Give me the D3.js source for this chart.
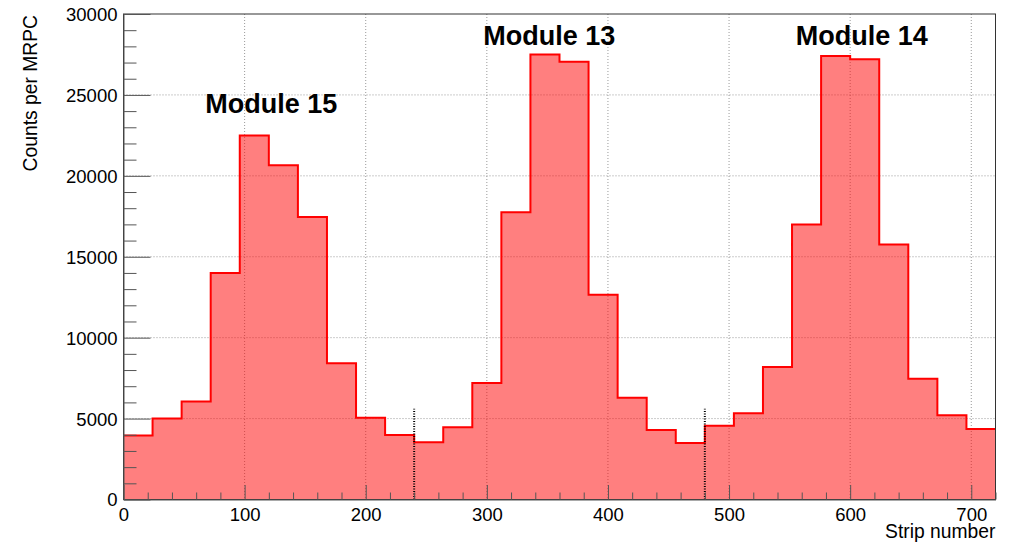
<!DOCTYPE html>
<html>
<head>
<meta charset="utf-8">
<script src="https://cdn.jsdelivr.net/npm/d3@7"></script>
<style>
	body { margin: 0; background: #fff; }
	text { font-family: "Liberation Sans", Arial, Helvetica, sans-serif; }
</style>
</head>
<body>
<script>
// bin width 24 strips, 30 bins from 0 to 720
var binWidth = 24;
var counts = [3950, 5000, 6050, 14000, 22500, 20650, 17450, 8420, 5050, 3980,
	3530, 4460, 7200, 17750, 27500, 27050, 12650, 6280, 4300, 3490,
	4560, 5330, 8180, 17000, 27400, 27200, 15750, 7460, 5200, 4360];

var xTicks = [0, 100, 200, 300, 400, 500, 600, 700];
var yTicks = [0, 5000, 10000, 15000, 20000, 25000, 30000];

var moduleNames = ["Module 15", "Module 13", "Module 14"];
var moduleX = [67.5, 297, 555];
var moduleY = [23900, 28100, 28100];

var separators = [240, 480];
var separatorTop = 5600;

var width = 1025,
	height = 551,
	padLeft = 123.5,
	padRight = 995.5,
	padTop = 14,
	padBottom = 499.5;

var x = d3.scaleLinear().domain([0, 720]).range([padLeft, padRight]);
var y = d3.scaleLinear().domain([0, 30000]).range([padBottom, padTop]);

var svg = d3.select("body").append("svg")
			.attr("width", width)
			.attr("height", height);

// grid
svg.append("g").selectAll("line")
	.data(xTicks.filter(function(d){ return d > 0; }))
	.enter().append("line")
	.attr("x1", function(d){ return x(d); })
	.attr("x2", function(d){ return x(d); })
	.attr("y1", padTop)
	.attr("y2", padBottom)
	.style("stroke", "#999")
	.style("stroke-dasharray", "1,2");

svg.append("g").selectAll("line")
	.data(yTicks.filter(function(d){ return d > 0 && d < 30000; }))
	.enter().append("line")
	.attr("x1", padLeft)
	.attr("x2", padRight)
	.attr("y1", function(d){ return y(d); })
	.attr("y2", function(d){ return y(d); })
	.style("stroke", "#999")
	.style("stroke-dasharray", "1,2");

// histogram
var pts = [];
counts.forEach(function(c, i){
	pts.push([i * binWidth, c]);
	pts.push([(i + 1) * binWidth, c]);
});

var area = d3.area()
	.x(function(d){ return x(d[0]); })
	.y0(y(0))
	.y1(function(d){ return y(d[1]); });

var line = d3.line()
	.x(function(d){ return x(d[0]); })
	.y(function(d){ return y(d[1]); });

svg.append("path")
	.datum(pts)
	.attr("d", area)
	.style("fill", "#ff0000")
	.style("fill-opacity", 0.5);

svg.append("path")
	.datum(pts)
	.attr("d", line)
	.style("fill", "none")
	.style("stroke", "#ff0000")
	.style("stroke-width", 2);

// module separators
svg.append("g").selectAll("line")
	.data(separators)
	.enter().append("line")
	.attr("x1", function(d){ return x(d); })
	.attr("x2", function(d){ return x(d); })
	.attr("y1", y(0))
	.attr("y2", y(separatorTop))
	.style("stroke", "#000")
	.style("stroke-width", 2)
	.style("stroke-dasharray", "1,1.5");

// frame
svg.append("rect")
	.attr("x", padLeft)
	.attr("y", padTop)
	.attr("width", padRight - padLeft)
	.attr("height", padBottom - padTop)
	.style("fill", "none")
	.style("stroke", "#333")
	.style("stroke-width", 1);

// y axis
var yAxis = d3.axisLeft(y)
	.tickValues(d3.range(0, 30001, 1000))
	.tickSizeInner(0)
	.tickSizeOuter(0)
	.tickFormat("");

var gy = svg.append("g").attr("transform", "translate(" + padLeft + ",0)").call(yAxis);
gy.select(".domain").style("stroke", "#555");
gy.selectAll(".tick line")
	.attr("x2", function(d){ return d % 5000 === 0 ? 27 : 13; })
	.style("stroke", "#555");
gy.selectAll(".tick").filter(function(d){ return d % 5000 === 0; })
	.append("text")
	.attr("x", -6)
	.attr("dy", "0.35em")
	.attr("text-anchor", "end")
	.style("font-size", "18.5px")
	.style("fill", "#000")
	.text(function(d){ return d; });

// x axis
var xAxis = d3.axisBottom(x)
	.tickValues(d3.range(0, 721, 20))
	.tickSizeInner(0)
	.tickSizeOuter(0)
	.tickFormat("");

var gx = svg.append("g").attr("transform", "translate(0," + padBottom + ")").call(xAxis);
gx.select(".domain").style("stroke", "#555");
gx.selectAll(".tick line")
	.attr("y2", function(d){ return d % 100 === 0 ? -14.5 : -7; })
	.style("stroke", "#555");
gx.selectAll(".tick").filter(function(d){ return xTicks.indexOf(d) >= 0; })
	.append("text")
	.attr("y", 21)
	.attr("text-anchor", "middle")
	.style("font-size", "18.5px")
	.style("fill", "#000")
	.text(function(d){ return d; });

// titles
svg.append("text")
	.attr("x", padRight)
	.attr("y", 538)
	.attr("text-anchor", "end")
	.style("font-size", "19.3px")
	.text("Strip number");

svg.append("text")
	.attr("transform", "translate(36.5," + (padTop + 1) + ") rotate(-90)")
	.attr("text-anchor", "end")
	.style("font-size", "19.3px")
	.text("Counts per MRPC");

// module labels
svg.append("g").selectAll("text")
	.data(moduleNames)
	.enter().append("text")
	.attr("x", function(d, i){ return x(moduleX[i]); })
	.attr("y", function(d, i){ return y(moduleY[i]); })
	.style("font-size", "27px")
	.style("font-weight", "bold")
	.text(function(d){ return d; });
</script>
</body>
</html>
